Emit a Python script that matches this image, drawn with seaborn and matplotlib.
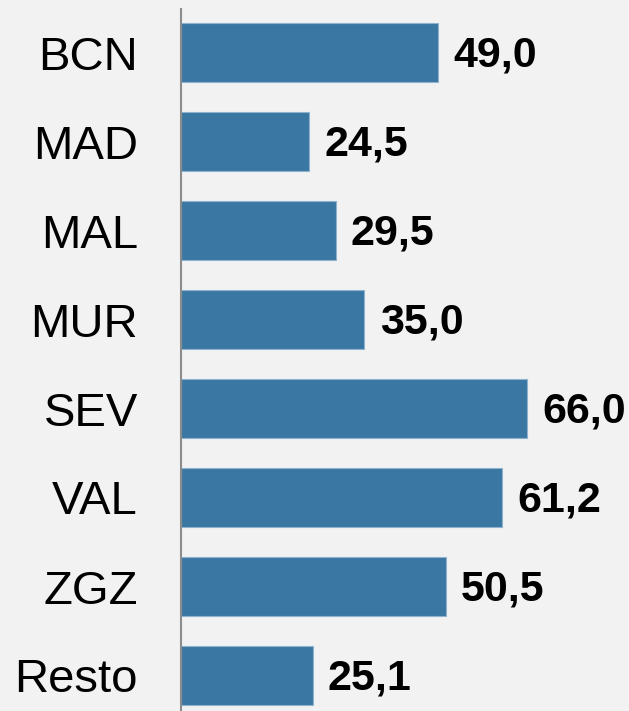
import matplotlib
matplotlib.use("Agg")
import matplotlib.pyplot as plt
import seaborn as sns
import pandas as pd

# data
cities = ["BCN", "MAD", "MAL", "MUR", "SEV", "VAL", "ZGZ", "Resto"]
values = [49.0, 24.5, 29.5, 35.0, 66.0, 61.2, 50.5, 25.1]

df = pd.DataFrame({"city": cities, "value": values})

sns.set_style("white")
plt.rcParams["font.family"] = ["Liberation Sans", "DejaVu Sans"]

bg = "#f2f2f2"
fig = plt.figure(figsize=(6.29, 7.11), dpi=100, facecolor=bg)
W, H = 629, 711
ax = fig.add_axes([181 / W, 0, (W - 181) / W, (H - 9) / H])
ax.set_facecolor(bg)

sns.barplot(data=df, x="value", y="city", orient="h", color="#3a77a2",
            saturation=1, width=0.66, edgecolor="#8fb2cf", linewidth=0.8, ax=ax)

ax.set_xlim(0, (W - 181) / 5.24)
ax.set_ylim((H - 52.5) / 89, (9 - 52.5) / 89)

for i, v in enumerate(values):
    ax.annotate(f"{v:.1f}".replace(".", ","), xy=(v, i), xytext=(11, -2),
                textcoords="offset points", va="center", ha="left",
                fontsize=31, fontweight="bold", color="black")

for s in ["top", "right", "bottom"]:
    ax.spines[s].set_visible(False)
ax.spines["left"].set_color("#8c8c8c")
ax.spines["left"].set_linewidth(1.5)

ax.set_xticks([])
ax.set_xlabel("")
ax.set_ylabel("")
ax.tick_params(axis="y", length=0, pad=31, labelsize=34, labelcolor="black")

fig.savefig("out.png", dpi=100, facecolor=bg)
